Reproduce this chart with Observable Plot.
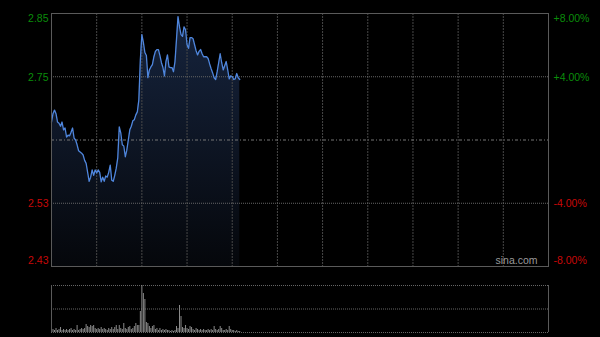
<!DOCTYPE html>
<html><head><meta charset="utf-8">
<script src="https://cdn.jsdelivr.net/npm/d3@7"></script>
<script src="https://cdn.jsdelivr.net/npm/@observablehq/plot@0.6"></script>
<style>
html,body{margin:0;padding:0;background:#000;width:600px;height:337px;overflow:hidden}
svg{display:block}
</style></head><body>
<svg width="0" height="0" style="position:absolute"><defs>
<linearGradient id="areaGrad" x1="0" y1="0" x2="0" y2="1">
<stop offset="0" stop-color="#16243e"/><stop offset="1" stop-color="#05070b"/>
</linearGradient></defs></svg>
<div id="chart"></div>
<script>
const prevClose = 2.64;
const pctTicks = [8, 4, -4, -8];
const sessionMinutes = 330;
const timeGrid = [30, 60, 90, 120, 150, 180, 210, 240, 270, 300];
const watermark = "sina.com";

const prices = [2.670,2.684,2.690,2.684,2.670,2.668,2.663,2.670,2.657,2.660,
2.645,2.648,2.647,2.653,2.660,2.643,2.640,2.632,2.622,2.620,
2.618,2.615,2.606,2.601,2.586,2.571,2.578,2.590,2.581,2.590,
2.585,2.590,2.586,2.570,2.578,2.571,2.580,2.578,2.586,2.598,
2.573,2.571,2.581,2.593,2.610,2.662,2.652,2.632,2.630,2.612,
2.623,2.640,2.657,2.663,2.672,2.674,2.682,2.687,2.707,2.774,
2.816,2.803,2.786,2.781,2.744,2.757,2.762,2.766,2.779,2.788,
2.791,2.791,2.781,2.769,2.761,2.747,2.771,2.782,2.762,2.761,
2.761,2.754,2.771,2.808,2.846,2.829,2.816,2.813,2.829,2.824,
2.799,2.793,2.811,2.811,2.809,2.799,2.789,2.782,2.788,2.791,
2.784,2.779,2.779,2.779,2.776,2.767,2.759,2.752,2.744,2.741,
2.754,2.769,2.784,2.769,2.757,2.764,2.771,2.757,2.742,2.747,
2.746,2.741,2.742,2.751,2.744,2.741];

const volumes = [110,30,20,40,20,30,50,20,30,20,
30,20,30,40,20,30,20,70,20,30,
40,30,40,80,60,50,70,60,70,40,
30,40,30,50,30,40,30,20,40,30,
50,30,50,70,30,70,40,30,90,40,
30,50,60,30,40,60,90,70,70,210,
470,390,330,100,90,60,40,60,70,30,
40,20,40,20,30,20,30,20,20,10,
20,10,20,60,40,270,160,50,40,70,
40,30,60,50,30,20,40,30,20,30,
20,30,20,20,30,20,30,20,60,30,
20,30,60,40,20,20,30,20,60,30,
20,20,10,20,10,10];

const pct2price = p => prevClose * (1 + p / 100);
const yMin = pct2price(-8), yMax = pct2price(8);
const series = prices.map((p, i) => ({t: i, price: p, vol: volumes[i]}));
const green = "#0a8c0a", red = "#c80808";
const font = "Arial, 'Liberation Sans', sans-serif";

function labels(side) {
  const isLeft = side === "left";
  const fmt = isLeft ? (p => pct2price(p).toFixed(2)) : (p => (p > 0 ? "+" : "") + p.toFixed(2) + "%");
  const groups = [
    {f: p => p === 8, dy: 5.5},
    {f: p => Math.abs(p) < 8, dy: 0.5},
    {f: p => p === -8, dy: -5.5}
  ];
  const out = [];
  for (const g of groups) {
    for (const [cf, col] of [[p => p > 0, green], [p => p < 0, red]]) {
      out.push(Plot.text(pctTicks.filter(p => g.f(p) && cf(p)), {
        frameAnchor: side, y: pct2price, text: fmt,
        textAnchor: isLeft ? "end" : "start", dx: isLeft ? -3 : 5, dy: g.dy,
        lineAnchor: "middle", fill: col, fontSize: 10.5
      }));
    }
  }
  return out;
}

const main = Plot.plot({
  width: 600, height: 275,
  marginLeft: 51, marginRight: 52, marginTop: 13, marginBottom: 9,
  style: {background: "transparent", fontFamily: font},
  x: {domain: [0, sessionMinutes], axis: null},
  y: {domain: [yMin, yMax], axis: null},
  marks: [
    Plot.areaY(series, {x: "t", y1: yMin, y2: "price", fill: "url(#areaGrad)"}),
    Plot.ruleX(timeGrid, {stroke: "#484848", strokeDasharray: "2,1"}),
    Plot.ruleY(pctTicks.filter(p => Math.abs(p) < 8).map(pct2price), {stroke: "#666", strokeDasharray: "1,1"}),
    Plot.ruleY([prevClose], {stroke: "#777", strokeDasharray: "3,2,1,2"}),
    Plot.lineY(series, {x: "t", y: "price", stroke: "#4f86dd", strokeWidth: 1.3}),
    Plot.frame({stroke: "#5a5a5a"}),
    ...labels("left"),
    ...labels("right"),
    Plot.text([watermark], {frameAnchor: "bottom-right", text: d => d, dx: -11, dy: -5.5, lineAnchor: "middle", textAnchor: "end", fill: "#9a9a9a", fontSize: 10.5})
  ]
});

const volMax = d3.max(volumes);
const vol = Plot.plot({
  width: 600, height: 62,
  marginLeft: 51, marginRight: 52, marginTop: 10, marginBottom: 5,
  style: {background: "transparent", fontFamily: font},
  x: {domain: [0, sessionMinutes], axis: null},
  y: {domain: [0, volMax], axis: null},
  marks: [
    Plot.ruleY([0, volMax / 2, volMax], {stroke: "#666", strokeDasharray: "1,1"}),
    Plot.ruleX(series, {x: "t", y1: 0, y2: "vol", stroke: "#8a8a8a"}),
    Plot.ruleX([0, sessionMinutes], {stroke: "#5a5a5a"})
  ]
});

const el = document.getElementById("chart");
el.append(main, vol);
</script>
</body></html>
